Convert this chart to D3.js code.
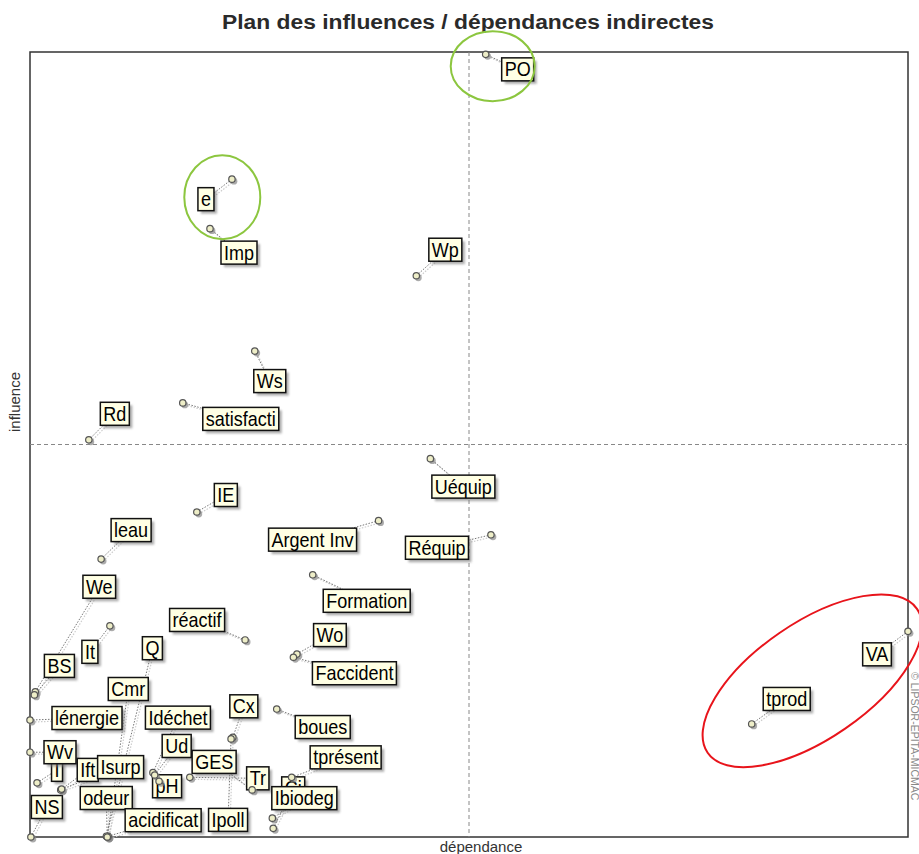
<!DOCTYPE html>
<html>
<head>
<meta charset="utf-8">
<script src="https://cdn.jsdelivr.net/npm/d3@7"></script>
<style>
  body { margin: 0; background: #fff; }
  svg { display: block; }
</style>
</head>
<body>
<svg id="chart" width="919" height="854"></svg>
<script>
// variables of the MICMAC study
var variables = ["PO", "e", "Imp", "Wp", "Ws", "Rd", "satisfacti", "Uéquip", "IE", "Argent Inv",
  "Réquip", "leau", "Formation", "We", "It", "réactif", "Wo", "Faccident", "VA", "tprod",
  "BS", "lénergie", "I", "Wv", "NS", "Ift", "Isurp", "odeur", "acidificat", "Q",
  "Cmr", "Idéchet", "Ud", "pH", "GES", "Tr", "Cx", "Ipoll", "boues", "tprésent", "Ci", "Ibiodeg"];

// indirect dependence (x) and influence (y), in % of the max
var dependance = [51.9, 23.0, 20.5, 44.0, 25.6, 6.7, 17.4, 45.6, 19.0, 39.7,
  52.5, 8.1, 32.2, 0.6, 9.1, 24.5, 30.4, 30.0, 100, 82.2,
  0.5, 0, 0.8, 0, 0.1, 3.5, 3.6, 8.8, 8.9, 8.7,
  8.8, 14.0, 14.2, 14.7, 25.3, 18.2, 23.1, 22.9, 28.1, 29.8, 27.7, 27.6];
var influence = [99.7, 83.8, 77.5, 71.5, 61.9, 50.6, 55.3, 48.2, 41.4, 40.3,
  38.5, 35.4, 33.4, 18.5, 26.9, 25.1, 23.3, 22.9, 26.2, 14.4,
  18.1, 14.9, 6.9, 10.8, 0, 6.0, 6.1, 0, 0.1, 0.1,
  0, 8.2, 7.9, 7.1, 6.0, 7.6, 12.7, 12.5, 16.3, 7.6, 1.1, 2.4];

// where each label box sits relative to its point (layout only)
var labelOffsets = [[32, 15], [-26, 20], [29, 24], [29, -26], [15, 30], [26, -26], [58, 16], [33, 28], [29, -17], [-66, 19],
  [-54, 13], [30, -29], [54, 26], [64, -105], [-20, 26], [-48, -20], [33, -19], [61, 16], [-31, 23], [35, -25],
  [25, -29], [57, -2], [20, -13], [30, 0], [16, -30], [27, -20], [59, -22], [-1, -39], [55, -16], [46, -188],
  [21, -148], [25, -55], [22, -29], [8, 5], [-38, -28], [68, 1], [11, -31], [-3, 81], [46, 18], [54, -20], [20, -40], [32, -20]];

// highlighted groups: centre in data units
var highlights = [
  {cx: 52.7, cy: 98.2, rx: 42, ry: 35, rot: 0, color: "#8cc63f"},
  {cx: 21.9, cy: 81.5, rx: 38, ry: 42, rot: 0, color: "#8cc63f"},
  {cx: 89.1, cy: 19.9, rx: 127, ry: 58, rot: -34.5, color: "#e8141b"}
];

var margin = {left: 30, top: 52, right: 11, bottom: 17};
var width = 919, height = 854;

var x = d3.scaleLinear().domain([0, 100]).range([margin.left, width - margin.right]);
var y = d3.scaleLinear().domain([0, 100]).range([height - margin.bottom, margin.top]);

var svg = d3.select("#chart");

var defs = svg.append("defs");
var blur = defs.append("filter").attr("id", "shadow").attr("x", "-20%").attr("y", "-20%").attr("width", "150%").attr("height", "160%");
blur.append("feGaussianBlur").attr("stdDeviation", 1.3);

// title
svg.append("text")
  .attr("x", 468).attr("y", 29)
  .attr("text-anchor", "middle")
  .attr("textLength", 492).attr("lengthAdjust", "spacingAndGlyphs")
  .style("font-family", "'Liberation Sans Narrow', 'Liberation Sans', Arial, sans-serif")
  .style("font-weight", "bold").style("font-size", "20px").style("fill", "#2a2a2a")
  .text("Plan des influences / dépendances indirectes");

// frame
svg.append("rect")
  .attr("x", x(0)).attr("y", y(100))
  .attr("width", x(100) - x(0)).attr("height", y(0) - y(100))
  .attr("fill", "none").attr("stroke", "#333").attr("stroke-width", 1.5);

// mid lines
svg.append("line")
  .attr("x1", x(50)).attr("x2", x(50)).attr("y1", y(100)).attr("y2", y(0))
  .attr("stroke", "#888").attr("stroke-dasharray", "4,3");
svg.append("line")
  .attr("x1", x(0)).attr("x2", x(100)).attr("y1", y(50)).attr("y2", y(50))
  .attr("stroke", "#888").attr("stroke-dasharray", "4,3");

// axis titles
svg.append("text")
  .attr("x", (x(0) + x(100)) / 2 + 12).attr("y", 852)
  .attr("text-anchor", "middle")
  .style("font-family", "'Liberation Sans', Arial, sans-serif").style("font-size", "15px").style("fill", "#333")
  .text("dépendance");
svg.append("text")
  .attr("transform", "translate(20,402) rotate(-90)")
  .attr("text-anchor", "middle")
  .style("font-family", "'Liberation Sans', Arial, sans-serif").style("font-size", "15px").style("fill", "#333")
  .text("influence");
svg.append("text")
  .attr("transform", "translate(911,672) rotate(90)")
  .style("font-family", "'Liberation Sans', Arial, sans-serif").style("font-size", "10.5px").style("fill", "#888")
  .text("© LIPSOR-EPITA-MICMAC");

var nodes = variables.map(function(name, i) {
  var px = x(dependance[i]), py = y(influence[i]);
  return {name: name, px: px, py: py, lx: px + labelOffsets[i][0], ly: py + labelOffsets[i][1]};
});

// leader lines (shadow + dotted)
var links = svg.append("g");
links.selectAll(".lshadow").data(nodes).enter().append("line")
  .attr("x1", function(d) { return d.px + 2; }).attr("y1", function(d) { return d.py + 2; })
  .attr("x2", function(d) { return d.lx + 2; }).attr("y2", function(d) { return d.ly + 2; })
  .attr("stroke", "#ccc").attr("stroke-width", 1.2).attr("stroke-dasharray", "1.5,1.5");
links.selectAll(".lline").data(nodes).enter().append("line")
  .attr("x1", function(d) { return d.px; }).attr("y1", function(d) { return d.py; })
  .attr("x2", function(d) { return d.lx; }).attr("y2", function(d) { return d.ly; })
  .attr("stroke", "#777").attr("stroke-width", 1).attr("stroke-dasharray", "1.5,1.5");

// labels
var label = svg.append("g").selectAll("g").data(nodes).enter().append("g")
  .attr("transform", function(d) { return "translate(" + d.lx + "," + d.ly + ")"; });
label.each(function(d) {
  var g = d3.select(this);
  var shadow = g.append("rect");
  var box = g.append("rect");
  var t = g.append("text")
    .attr("text-anchor", "middle").attr("dy", "0.36em")
    .attr("transform", "scale(1,1.08)")
    .style("font-family", "'Liberation Sans', Arial, sans-serif").style("font-size", "18px").style("fill", "#000")
    .text(d.name);
  var w = t.node().getComputedTextLength() + 6, h = 23;
  shadow.attr("x", -w / 2 + 3).attr("y", -h / 2 + 3).attr("width", w).attr("height", h)
    .attr("fill", "#777").attr("opacity", 0.6).attr("filter", "url(#shadow)");
  box.attr("x", -w / 2).attr("y", -h / 2).attr("width", w).attr("height", h)
    .attr("fill", "#ffffe4").attr("stroke", "#111").attr("stroke-width", 1.5);
});

// points
var pts = svg.append("g");
pts.selectAll(".pshadow").data(nodes).enter().append("circle")
  .attr("cx", function(d) { return d.px + 2; }).attr("cy", function(d) { return d.py + 2; })
  .attr("r", 3.4).attr("fill", "#888").attr("opacity", 0.7);
pts.selectAll(".pt").data(nodes).enter().append("circle")
  .attr("cx", function(d) { return d.px; }).attr("cy", function(d) { return d.py; })
  .attr("r", 3.2).attr("fill", "#eeeec8").attr("stroke", "#555").attr("stroke-width", 1.2);

// highlight ellipses
svg.append("g").selectAll("ellipse").data(highlights).enter().append("ellipse")
  .attr("transform", function(d) { return "translate(" + x(d.cx) + "," + y(d.cy) + ") rotate(" + d.rot + ")"; })
  .attr("rx", function(d) { return d.rx; }).attr("ry", function(d) { return d.ry; })
  .attr("fill", "none").attr("stroke", function(d) { return d.color; }).attr("stroke-width", 2);
</script>
</body>
</html>
